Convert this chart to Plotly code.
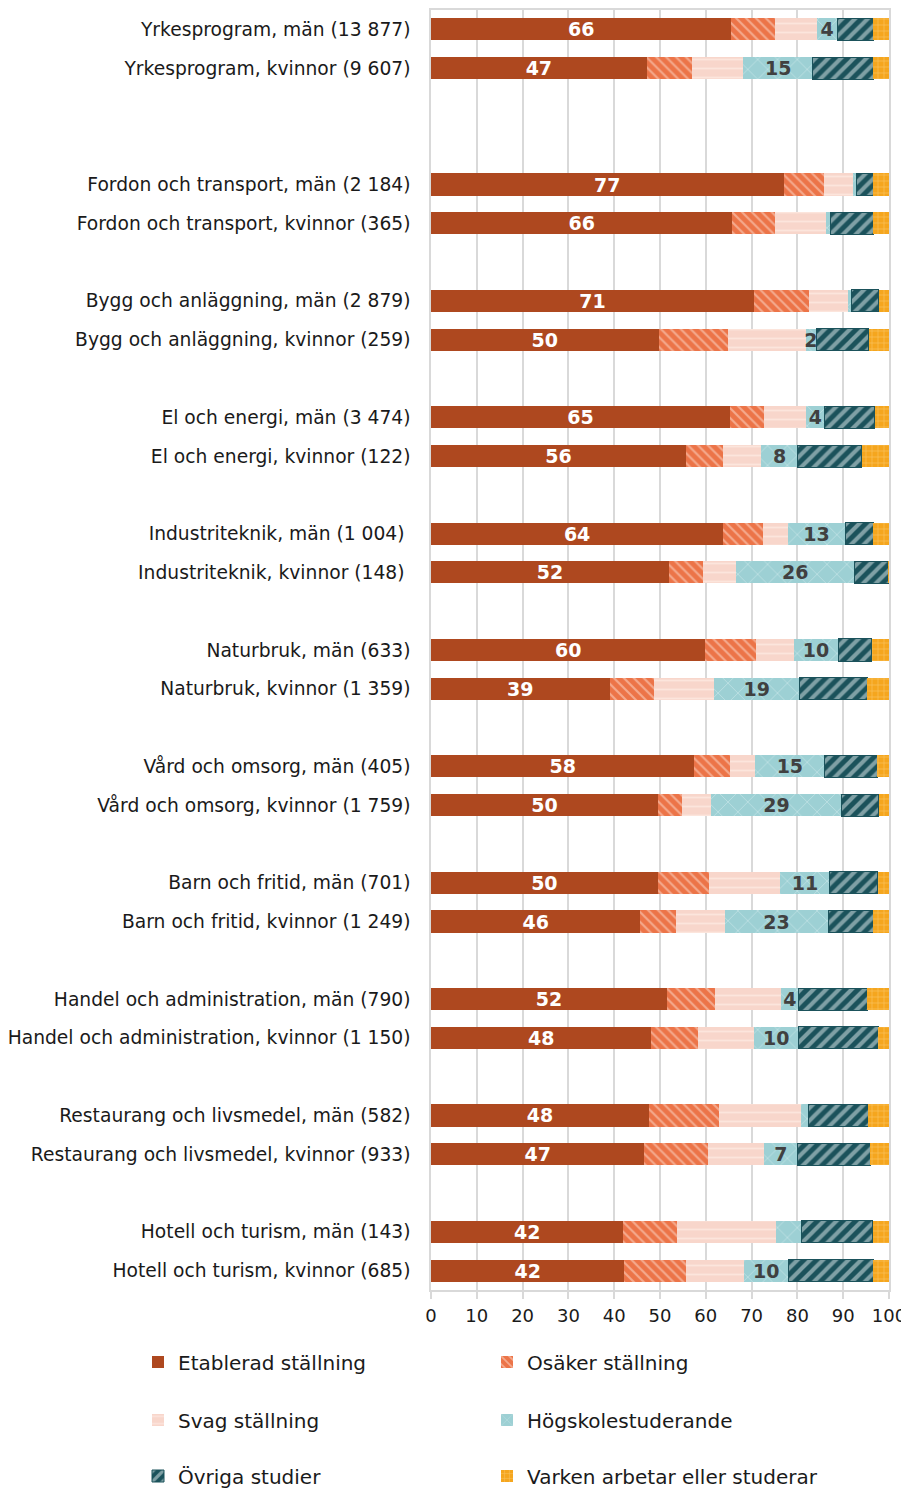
import plotly.graph_objects as go

categories = [
    "Yrkesprogram, män (13 877)",
    "Yrkesprogram, kvinnor (9 607)",
    "Fordon och transport, män (2 184)",
    "Fordon och transport, kvinnor (365)",
    "Bygg och anläggning, män (2 879)",
    "Bygg och anläggning, kvinnor (259)",
    "El och energi, män (3 474)",
    "El och energi, kvinnor (122)",
    "Industriteknik, män (1 004)\u00a0",
    "Industriteknik, kvinnor (148)\u00a0",
    "Naturbruk, män (633)",
    "Naturbruk, kvinnor (1 359)",
    "Vård och omsorg, män (405)",
    "Vård och omsorg, kvinnor (1 759)",
    "Barn och fritid, män (701)",
    "Barn och fritid, kvinnor (1 249)",
    "Handel och administration, män (790)",
    "Handel och administration, kvinnor (1 150)",
    "Restaurang och livsmedel, män (582)",
    "Restaurang och livsmedel, kvinnor (933)",
    "Hotell och turism, män (143)",
    "Hotell och turism, kvinnor (685)",
]

etablerad = [65.6, 47.1, 77.0, 65.8, 70.5, 49.7, 65.3, 55.7, 63.8, 52.0, 59.9,
             39.0, 57.5, 49.6, 49.5, 45.7, 51.5, 48.1, 47.6, 46.6, 42.0, 42.2]
osaker = [9.6, 9.9, 8.9, 9.2, 12.1, 15.1, 7.5, 8.1, 8.7, 7.3, 11.0,
          9.6, 7.8, 5.2, 11.3, 7.7, 10.4, 10.1, 15.2, 13.8, 11.8, 13.4]
svag = [9.1, 11.2, 6.2, 11.3, 8.5, 17.0, 9.0, 8.3, 5.4, 7.4, 8.3,
        13.2, 5.4, 6.4, 15.4, 10.8, 14.5, 12.3, 17.9, 12.3, 21.6, 12.7]
hogskola = [4.4, 15.2, 0.9, 1.0, 0.8, 2.3, 4.2, 8.0, 12.5, 25.7, 9.7,
            18.6, 15.3, 28.5, 10.9, 22.5, 3.9, 9.8, 1.8, 7.4, 5.6, 9.8]
ovriga = [7.9, 13.2, 3.6, 9.3, 5.9, 11.5, 10.9, 14.0, 6.2, 7.4, 7.3,
          14.9, 11.4, 8.1, 10.4, 9.9, 15.0, 17.3, 13.0, 15.8, 15.5, 18.5]
varken = [3.4, 3.4, 3.4, 3.4, 2.2, 4.4, 3.1, 5.9, 3.4, 0.2, 3.8,
          4.7, 2.6, 2.2, 2.5, 3.4, 4.7, 2.4, 4.5, 4.1, 3.5, 3.4]

etablerad_labels = ["66", "47", "77", "66", "71", "50", "65", "56", "64", "52", "60",
                    "39", "58", "50", "50", "46", "52", "48", "48", "47", "42", "42"]
hogskola_labels = ["4", "15", "", "", "", "2", "4", "8", "13", "26", "10",
                   "19", "15", "29", "11", "23", "4", "10", "", "7", "", "10"]

series_names = ["Etablerad ställning", "Osäker ställning", "Svag ställning",
                "Högskolestuderande", "Övriga studier", "Varken arbetar eller studerar"]

x_ticks = [0, 10, 20, 30, 40, 50, 60, 70, 80, 90, 100]

# spacer slots between groups (2 after the first group, 1 after the others)
gap_after_group = [2, 1, 1, 1, 1, 1, 1, 1, 1, 1]

order = []
blank_count = 0
for i, c in enumerate(categories):
    order.append(c)
    g = i // 2
    if i % 2 == 1 and g < len(gap_after_group):
        for _ in range(gap_after_group[g]):
            blank_count += 1
            order.append("\u200b" * blank_count)

FONT = "DejaVu Sans"

styles = [
    dict(color="#AE481F", pattern=None, line_color="#AE481F", line_width=0),
    dict(color="#EC7448", pattern=dict(shape="\\", fgcolor="#FCE0D4", bgcolor="#EC7448",
                                       size=7, solidity=0.3),
         line_color="#EC7448", line_width=0),
    dict(color="#F8D6CB", pattern=dict(shape="-", fgcolor="#FFF3EE", bgcolor="#F8D6CB",
                                       size=9, solidity=0.2),
         line_color="#F8D6CB", line_width=0),
    dict(color="#9DD0D4", pattern=dict(shape="x", fgcolor="#DDF0F1", bgcolor="#9DD0D4",
                                       size=14, solidity=0.12),
         line_color="#9DD0D4", line_width=0),
    dict(color="#1B525B", pattern=dict(shape="/", fgcolor="#E4EEEF", bgcolor="#1B525B",
                                       size=9, solidity=0.45),
         line_color="#1B525B", line_width=1),
    dict(color="#F5A61E", pattern=dict(shape="+", fgcolor="#FCDFA2", bgcolor="#F5A61E",
                                       size=6, solidity=0.2),
         line_color="#F5A61E", line_width=0),
]

values = [etablerad, osaker, svag, hogskola, ovriga, varken]
texts = [etablerad_labels, None, None, hogskola_labels, None, None]
text_colors = ["#FFFFFF", None, None, "#404040", None, None]
legend_ids = ["legend", "legend", "legend2", "legend2", "legend3", "legend3"]

fig = go.Figure()
for k, name in enumerate(series_names):
    st = styles[k]
    marker = dict(color=st["color"], line=dict(color=st["line_color"], width=st["line_width"]))
    if st["pattern"] is not None:
        marker["pattern"] = st["pattern"]
    kw = {}
    if texts[k] is not None:
        kw = dict(text=texts[k], textposition="inside", insidetextanchor="middle",
                  constraintext="none", textangle=0,
                  textfont=dict(family=FONT, size=19, color=text_colors[k], weight="bold"))
    fig.add_trace(go.Bar(
        name=name, y=categories, x=values[k], orientation="h",
        marker=marker, hoverinfo="skip", legend=legend_ids[k], **kw))

# the page body adds an 8px margin; place the plot so it lines up with the window
OFF = 8
W, H = 909 - OFF, 1490 - OFF
L = 431 - OFF
R = W - (889 - OFF)
T = 10 - OFF
B = H - (1290 - OFF)
pw, ph = W - L - R, H - T - B


def px_to_paper_x(px):
    return (px - OFF - L) / pw


def px_to_paper_y(py):
    return (H - B - (py - OFF)) / ph


legend_common = dict(orientation="h", xanchor="left", yanchor="middle",
                     font=dict(family=FONT, size=20, color="#1A1A1A"),
                     entrywidth=304, entrywidthmode="pixels",
                     bgcolor="rgba(0,0,0,0)", traceorder="normal")

fig.update_layout(
    width=W, height=H,
    margin=dict(l=L, r=R, t=T, b=B, autoexpand=False),
    paper_bgcolor="white", plot_bgcolor="white",
    barmode="stack", bargap=0.43,
    font=dict(family=FONT, color="#1A1A1A"),
    legend=dict(x=px_to_paper_x(138), y=px_to_paper_y(1362), **legend_common),
    legend2=dict(x=px_to_paper_x(138), y=px_to_paper_y(1420), **legend_common),
    legend3=dict(x=px_to_paper_x(138), y=px_to_paper_y(1476), **legend_common),
    xaxis=dict(range=[0, 100], tickvals=x_ticks, ticktext=[str(v) for v in x_ticks],
               showgrid=True, gridcolor="#D9D9D9", gridwidth=1.5,
               showline=True, linecolor="#D9D9D9", linewidth=1.5, mirror=True,
               ticks="outside", ticklen=7, tickcolor="#D9D9D9", tickwidth=1.5,
               ticklabelstandoff=2, ticklabeloverflow="allow",
               zeroline=False, tickfont=dict(family=FONT, size=18, color="#1A1A1A"),
               fixedrange=True),
    yaxis=dict(type="category", categoryorder="array", categoryarray=order,
               range=[len(order) - 0.5, -0.5],
               showgrid=False, showline=True, linecolor="#D9D9D9", linewidth=1.5,
               mirror=True, ticks="", ticklabelstandoff=15,
               tickfont=dict(family=FONT, size=18.7, color="#1A1A1A"),
               fixedrange=True),
)

fig.write_html("out.html")
